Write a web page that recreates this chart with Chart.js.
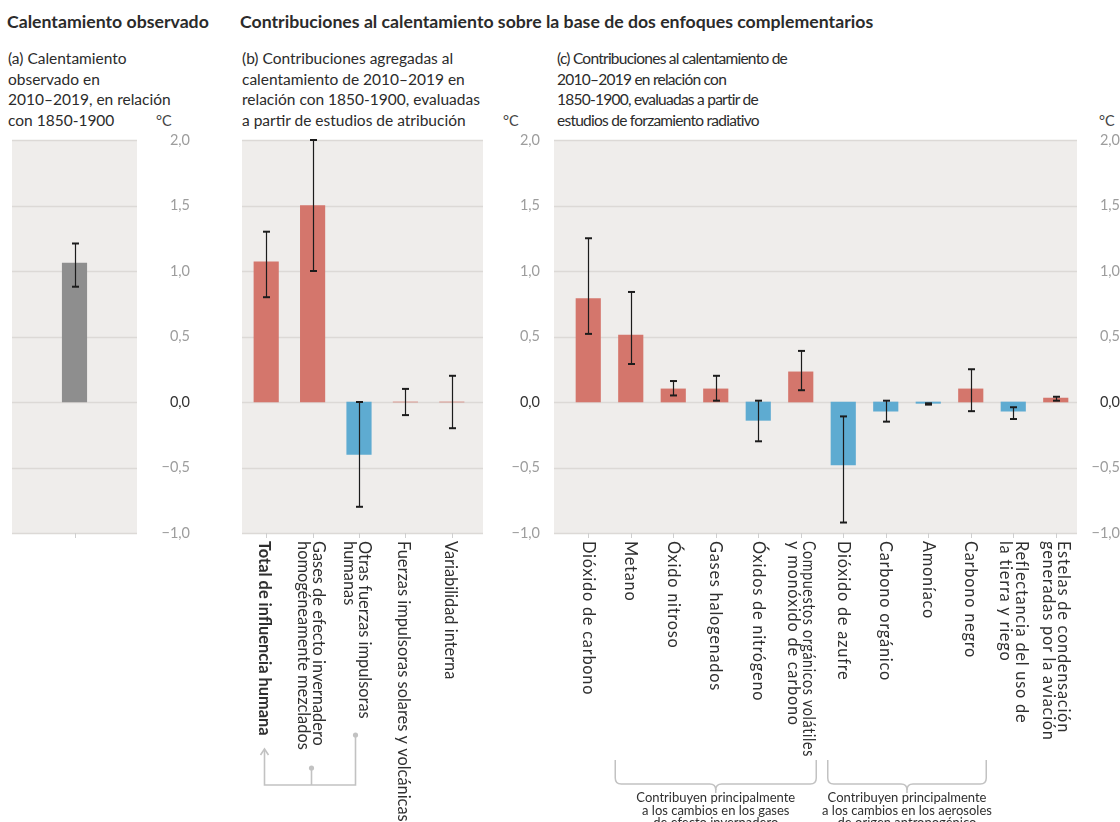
<!DOCTYPE html>
<html lang="es">
<head>
<meta charset="utf-8">
<title>Contribuciones al calentamiento</title>
<script src="https://cdn.jsdelivr.net/npm/chart.js@4.4.1/dist/chart.umd.min.js"></script>
<style>
  html, body { margin: 0; padding: 0; background: #ffffff; }
  #fig { position: relative; width: 1120px; height: 822px; overflow: hidden;
         font-family: Lato, "Open Sans", sans-serif; color: #2b2b2b; }
  .head { position: absolute; top: 12px; font-weight: 700; font-size: 17.7px; line-height: 20px; white-space: nowrap; }
  .sub  { position: absolute; top: 48px; font-size: 15.5px; line-height: 20.7px; white-space: nowrap; }
  .tight { letter-spacing: -0.75px; }
  .unit { position: absolute; top: 111px; font-size: 14.5px; line-height: 20px; color: #444; }
  canvas { position: absolute; top: 0; }
</style>
</head>
<body>
<div id="fig">
  <div class="head" style="left:7px">Calentamiento observado</div>
  <div class="head" style="left:240px">Contribuciones al calentamiento sobre la base de dos enfoques complementarios</div>

  <div class="sub" style="left:8px">(a) Calentamiento<br>observado en<br>2010–2019, en relación<br>con 1850-1900</div>
  <div class="sub" style="left:242px">(b) Contribuciones agregadas al<br>calentamiento de 2010–2019 en<br>relación con 1850-1900, evaluadas<br>a partir de estudios de atribución</div>
  <div class="sub tight" style="left:557px">(c) Contribuciones al calentamiento de<br>2010–2019 en relación con<br>1850-1900, evaluadas a partir de<br>estudios de forzamiento radiativo</div>

  <div class="unit" style="left:156px">°C</div>
  <div class="unit" style="left:503px">°C</div>
  <div class="unit" style="left:1099px">°C</div>

  <canvas id="panelA" width="190" height="822" style="left:0px"></canvas>
  <canvas id="panelB" width="350" height="822" style="left:190px"></canvas>
  <canvas id="panelC" width="580" height="822" style="left:540px"></canvas>
</div>

<script>
// ---- (a) observed warming 2010–2019 vs 1850–1900 ----
const observedLabels = [''];
const observedValues = [1.06];
const observedLow    = [0.88];
const observedHigh   = [1.21];

// ---- (b) aggregated contributions, attribution studies ----
const attributionLabels = [
  'Total de influencia humana',
  ['Gases de efecto invernadero', 'homogéneamente mezclados'],
  ['Otras fuerzas impulsoras', 'humanas'],
  'Fuerzas impulsoras solares y volcánicas',
  'Variabilidad interna'
];
const attributionValues = [1.07, 1.50, -0.40, 0.00, 0.00];
const attributionLow    = [0.80, 1.00, -0.80, -0.10, -0.20];
const attributionHigh   = [1.30, 2.00, 0.00, 0.10, 0.20];

// ---- (c) contributions from radiative forcing studies ----
const forcingLabels = [
  'Dióxido de carbono',
  'Metano',
  'Óxido nitroso',
  'Gases halogenados',
  'Óxidos de nitrógeno',
  ['Compuestos orgánicos volátiles', 'y monóxido de carbono'],
  'Dióxido de azufre',
  'Carbono orgánico',
  'Amoníaco',
  'Carbono negro',
  ['Reflectancia del uso de', 'la tierra y riego'],
  ['Estelas de condensación', 'generadas por la aviación']
];
const forcingValues = [0.79, 0.51, 0.10, 0.10, -0.14, 0.23, -0.48, -0.07, -0.01, 0.10, -0.07, 0.03];
const forcingLow    = [0.52, 0.29, 0.05, 0.01, -0.30, 0.09, -0.92, -0.15, -0.02, -0.07, -0.13, 0.01];
const forcingHigh   = [1.25, 0.84, 0.16, 0.20, 0.01, 0.39, -0.11, 0.01, -0.01, 0.25, -0.04, 0.04];

// brace groups under panel (c): first and last category index + caption
const forcingGroups = [
  { from: 1, to: 5, caption: ['Contribuyen principalmente', 'a los cambios en los gases', 'de efecto invernadero'] },
  { from: 6, to: 9, caption: ['Contribuyen principalmente', 'a los cambios en los aerosoles', 'de origen antropogénico'] }
];

// shared temperature axis (°C)
const axisMin = -1.0, axisMax = 2.0, axisStep = 0.5;

// ---- styling ----
const WARM = '#d4766c', COOL = '#5eabd1', OBS = '#8e8e8e';
const PANEL_BG = '#efedeb', GRID = '#dcd9d6';
const INK = '#2f2f2f', CONNECTOR = '#c2c2c2';
const PLOT_TOP = 140, PLOT_BOTTOM = 533, CANVAS_H = 822;
const LABEL_TOP = 541, LABEL_SIZE = 16.4, LABEL_GAP = 15.5;
const TICK_FONT_SIZE = 14.5;

const fmt = v => {
  const s = Math.abs(v).toFixed(1).replace('.', ',');
  return v < -1e-9 ? '\u2212' + s : s;
};

function widestTick() {
  const c = document.createElement('canvas').getContext('2d');
  c.font = TICK_FONT_SIZE + 'px Lato';
  let w = 0;
  for (let v = axisMin; v <= axisMax + 1e-9; v += axisStep) w = Math.max(w, c.measureText(fmt(v)).width);
  return w;
}
const tickW = widestTick();

function makePanel(id, cfg) {
  const canvas = document.getElementById(id);
  const off = cfg.pageLeft;
  const plotL = cfg.plotLeft - off, plotR = cfg.plotRight - off;
  const axisW = canvas.width - plotR;
  const tickPad = cfg.tickRight - cfg.plotRight - tickW;
  const bgL = cfg.bgLeft - off, bgR = cfg.bgRight - off;

  const decor = {
    id: 'decor_' + id,
    beforeDraw(chart) {
      const { ctx } = chart, ys = chart.scales.y, xs = chart.scales.x;
      const top = ys.getPixelForValue(axisMax), bot = ys.getPixelForValue(axisMin);
      ctx.save();
      ctx.fillStyle = PANEL_BG;
      ctx.fillRect(bgL, top, bgR - bgL, bot - top);
      ctx.strokeStyle = GRID;
      ctx.lineWidth = 1.4;
      ys.ticks.forEach(t => {
        const py = Math.round(ys.getPixelForValue(t.value)) + 0.5;
        ctx.beginPath(); ctx.moveTo(bgL, py); ctx.lineTo(bgR, py); ctx.stroke();
      });
      // small category ticks under the plot
      ctx.strokeStyle = '#cfcfcf';
      ctx.lineWidth = 1;
      chart.data.labels.forEach((_, i) => {
        const px = Math.round(xs.getPixelForValue(i)) + 0.5;
        ctx.beginPath(); ctx.moveTo(px, bot); ctx.lineTo(px, bot + 5); ctx.stroke();
      });
      ctx.restore();
    },
    afterDatasetsDraw(chart) {
      const { ctx } = chart, ys = chart.scales.y, xs = chart.scales.x;
      ctx.save();
      ctx.strokeStyle = '#1c1c1c';
      cfg.low.forEach((lo, i) => {
        const px = Math.round(xs.getPixelForValue(i)) + 0.5;
        const y1 = ys.getPixelForValue(lo), y2 = ys.getPixelForValue(cfg.high[i]);
        ctx.lineWidth = 1.2;
        ctx.beginPath(); ctx.moveTo(px, y1); ctx.lineTo(px, y2); ctx.stroke();
        ctx.lineWidth = 2;
        [y1, y2].forEach(py => {
          ctx.beginPath(); ctx.moveTo(px - 3.5, py); ctx.lineTo(px + 3.5, py); ctx.stroke();
        });
      });
      ctx.restore();
    },
    afterDraw(chart) {
      const { ctx } = chart, xs = chart.scales.x;
      ctx.save();
      chart.data.labels.forEach((lab, i) => {
        const lines = Array.isArray(lab) ? lab : [lab];
        if (!lines[0]) return;
        const cx = xs.getPixelForValue(i) + (cfg.labelShift || 0);
        ctx.save();
        ctx.translate(cx, LABEL_TOP);
        ctx.rotate(Math.PI / 2);
        ctx.font = (cfg.boldIndex === i ? '700 ' : '400 ') + LABEL_SIZE + 'px Lato';
        if ('letterSpacing' in ctx) ctx.letterSpacing = cfg.labelSpacing || '0px';
        ctx.fillStyle = INK;
        ctx.textAlign = 'left';
        ctx.textBaseline = 'middle';
        lines.forEach((ln, k) => {
          const dy = (k - (lines.length - 1) / 2) * LABEL_GAP;
          if (cfg.labelMaxLen) ctx.fillText(ln, 0, dy, cfg.labelMaxLen);
          else ctx.fillText(ln, 0, dy);
        });
        ctx.restore();
      });
      if (cfg.extra) cfg.extra(chart, ctx);
      ctx.restore();
    }
  };

  return new Chart(canvas, {
    type: 'bar',
    data: {
      labels: cfg.labels,
      datasets: [{
        data: cfg.values,
        backgroundColor: cfg.color,
        borderWidth: 0,
        barThickness: 24.5
      }]
    },
    options: {
      responsive: false,
      animation: false,
      devicePixelRatio: 1,
      layout: { padding: { top: PLOT_TOP, left: plotL, right: 0, bottom: 0 } },
      plugins: { legend: { display: false }, tooltip: { enabled: false } },
      scales: {
        x: {
          type: 'category',
          offset: true,
          grid: { display: false },
          border: { display: false },
          ticks: { display: false },
          afterFit: s => { s.height = CANVAS_H - PLOT_BOTTOM; }
        },
        y: {
          position: 'right',
          min: axisMin,
          max: axisMax,
          grid: { display: false },
          border: { display: false },
          ticks: {
            stepSize: axisStep,
            callback: v => fmt(v),
            crossAlign: 'far',
            padding: tickPad,
            font: { family: 'Lato', size: TICK_FONT_SIZE },
            color: c => (Math.abs(c.tick.value) < 1e-9 ? '#333333' : '#9d9d9d')
          },
          afterFit: s => { s.width = axisW; }
        }
      }
    },
    plugins: [decor]
  });
}

const signColour = ctx => (ctx.raw >= 0 ? WARM : COOL);

makePanel('panelA', {
  pageLeft: 0, plotLeft: 12, plotRight: 137, bgLeft: 12, bgRight: 137, tickRight: 170,
  labels: observedLabels, values: observedValues, low: observedLow, high: observedHigh,
  color: OBS
});

makePanel('panelB', {
  pageLeft: 190, plotLeft: 243, plotRight: 475, bgLeft: 242, bgRight: 483, tickRight: 517,
  labels: attributionLabels, values: attributionValues, low: attributionLow, high: attributionHigh,
  color: signColour, boldIndex: 0, labelShift: -2,
  extra(chart, ctx) {
    // connectors: the two human components add up to the total
    const xs = chart.scales.x;
    const xT = Math.round(xs.getPixelForValue(0)) - 1.5;
    const xG = Math.round(xs.getPixelForValue(1)) - 1.5;
    const xO = Math.round(xs.getPixelForValue(2)) - 3.5;
    const yBase = 785;
    ctx.strokeStyle = CONNECTOR; ctx.fillStyle = CONNECTOR; ctx.lineWidth = 1.6;
    ctx.beginPath();
    ctx.moveTo(xT, 750); ctx.lineTo(xT, yBase); ctx.lineTo(xO, yBase); ctx.lineTo(xO, 736);
    ctx.moveTo(xG, yBase); ctx.lineTo(xG, 769);
    ctx.stroke();
    ctx.beginPath(); ctx.moveTo(xT - 4, 755); ctx.lineTo(xT, 749); ctx.lineTo(xT + 4, 755); ctx.stroke();
    [[xG, 768], [xO, 735]].forEach(([x, y]) => { ctx.beginPath(); ctx.arc(x, y, 2.6, 0, Math.PI * 2); ctx.fill(); });
  }
});

makePanel('panelC', {
  pageLeft: 540, plotLeft: 567, plotRight: 1077, bgLeft: 554, bgRight: 1077, tickRight: 1114,
  labels: forcingLabels, values: forcingValues, low: forcingLow, high: forcingHigh,
  color: signColour, labelSpacing: '0.75px', labelMaxLen: 216,
  extra(chart, ctx) {
    const xs = chart.scales.x;
    const yTop = 760, yBar = 784, r = 6;
    if ('letterSpacing' in ctx) ctx.letterSpacing = '0px';
    forcingGroups.forEach(g => {
      const x0 = xs.getPixelForValue(g.from) - 15.5;
      const x1 = xs.getPixelForValue(g.to) + 15.5;
      const cx = (x0 + x1) / 2;
      ctx.strokeStyle = CONNECTOR; ctx.lineWidth = 1.5;
      ctx.beginPath();
      ctx.moveTo(x0, yTop); ctx.lineTo(x0, yBar - r);
      ctx.quadraticCurveTo(x0, yBar, x0 + r, yBar);
      ctx.lineTo(cx - r, yBar);
      ctx.quadraticCurveTo(cx, yBar, cx, yBar + 6);
      ctx.quadraticCurveTo(cx, yBar, cx + r, yBar);
      ctx.lineTo(x1 - r, yBar);
      ctx.quadraticCurveTo(x1, yBar, x1, yBar - r);
      ctx.lineTo(x1, yTop);
      ctx.stroke();
      ctx.beginPath(); ctx.moveTo(cx, yBar + 5); ctx.lineTo(cx, yBar + 9); ctx.stroke();
      ctx.fillStyle = INK;
      ctx.font = '400 13px Lato';
      ctx.textAlign = 'center';
      ctx.textBaseline = 'middle';
      g.caption.forEach((ln, k) => ctx.fillText(ln, cx, 798 + k * 12.5));
    });
  }
});
</script>
</body>
</html>
